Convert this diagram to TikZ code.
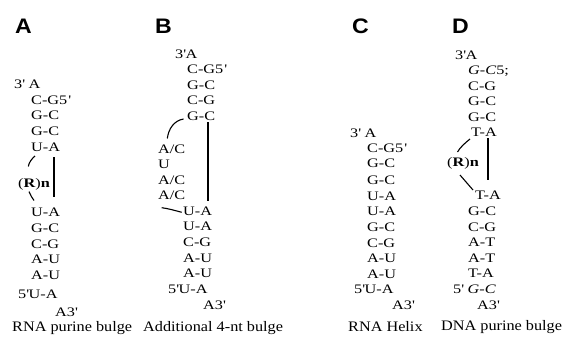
\documentclass[tikz,border=0pt]{standalone}
\usepackage{fontspec}
\setmainfont{Liberation Serif}
\newfontfamily\seqfont[FakeStretch=1.25]{Liberation Serif}
\newfontfamily\capfont[FakeStretch=1.12]{Liberation Serif}
\newfontfamily\labfont[FakeStretch=1.1]{Liberation Sans}
\newcommand\q{\textquotesingle}
\newcommand\qq{\kern1.2pt\textquotesingle}
\newcommand\Rn{(\textbf{R})\textbf{n}}

\tikzset{
  seq/.style={anchor=base west, inner sep=0pt, font=\seqfont\fontsize{13}{13}\selectfont},
  caption/.style={anchor=base west, inner sep=0pt, font=\capfont\fontsize{14.5}{15}\selectfont},
  panel/.style={anchor=base west, inner sep=0pt, font=\labfont\bfseries\fontsize{21}{21}\selectfont},
  stem/.style={line width=2pt},
  bulge/.style={line width=1.1pt},
}

\begin{document}
\begin{tikzpicture}[x=1pt,y=-1pt]
\useasboundingbox (0,0) rectangle (566,340);

% ---------- panel labels ----------
\node[panel] (labA) at (15,33)  {A};
\node[panel] (labB) at (155,33) {B};
\node[panel] (labC) at (352,33) {C};
\node[panel] (labD) at (452,33) {D};

% ---------- A: RNA purine bulge ----------
\node[seq] (a1)  at (14,88)    {3\q{} A};
\node[seq] (a2)  at (31,104)   {C-G5\qq};
\node[seq] (a3)  at (31,119.5) {G-C};
\node[seq] (a4)  at (31,135)   {G-C};
\node[seq] (a5)  at (31,151)   {U-A};
\node[seq] (aR)  at (18,187)   {\Rn};
\node[seq] (a6)  at (31,216.5) {U-A};
\node[seq] (a7)  at (31,232)   {G-C};
\node[seq] (a8)  at (31,248)   {C-G};
\node[seq] (a9)  at (31,263.5) {A-U};
\node[seq] (a10) at (31,279)   {A-U};
\node[seq] (a11) at (18,298)   {5\q U-A};
\node[seq] (a12) at (55,316)   {A3\q};
\node[caption] (capA) at (12,331) {RNA purine bulge};
\coordinate (aTop) at (53.5,157);
\coordinate (aBot) at (53.5,197);
\draw[stem] (aTop) -- (aBot);
\coordinate (aU1) at (35,156);
\coordinate (aU2) at (28.3,166.5);
\coordinate (aL1) at (29,191.5);
\coordinate (aL2) at (34,200.5);
\draw[bulge] (aU1) .. controls (31.5,159) and (29,162.5) .. (aU2);
\draw[bulge] (aL1) .. controls (30.5,195) and (32,198) .. (aL2);

% ---------- B: additional 4-nt bulge ----------
\node[seq] (b1)  at (175,59)   {3\q A};
\node[seq] (b2)  at (187,74)   {C-G5\qq};
\node[seq] (b3)  at (187,89)   {G-C};
\node[seq] (b4)  at (187,104.5){C-G};
\node[seq] (b5)  at (187,120)  {G-C};
\node[seq] (b6)  at (158,153)  {A/C};
\node[seq] (b7)  at (158,168)  {U};
\node[seq] (b8)  at (158,184)  {A/C};
\node[seq] (b9)  at (158,199)  {A/C};
\node[seq] (b10) at (183,215)  {U-A};
\node[seq] (b11) at (183,230.5){U-A};
\node[seq] (b12) at (183,246)  {C-G};
\node[seq] (b13) at (183,262)  {A-U};
\node[seq] (b14) at (183,277)  {A-U};
\node[seq] (b15) at (168,293)  {5\q U-A};
\node[seq] (b16) at (203,309)  {A3\q};
\node[caption] (capB) at (143,331) {Additional 4-nt bulge};
\coordinate (bTop) at (208,122);
\coordinate (bBot) at (208,201);
\draw[stem] (bTop) -- (bBot);
\coordinate (bU1) at (183.5,119);
\coordinate (bU2) at (167.3,138.5);
\coordinate (bL1) at (161.7,207.7);
\coordinate (bL2) at (181.7,212.3);
\draw[bulge] (bU1) .. controls (174,120.5) and (168.5,129) .. (bU2);
\draw[bulge] (bL1) .. controls (168,208.5) and (175,210.5) .. (bL2);

% ---------- C: RNA helix ----------
\node[seq] (c1)  at (350,137.5) {3\q{} A};
\node[seq] (c2)  at (367,152.5) {C-G5\qq};
\node[seq] (c3)  at (367,167.5) {G-C};
\node[seq] (c4)  at (367,184)   {G-C};
\node[seq] (c5)  at (367,200)   {U-A};
\node[seq] (c6)  at (367,215.5) {U-A};
\node[seq] (c7)  at (367,231.5) {G-C};
\node[seq] (c8)  at (367,247.5) {C-G};
\node[seq] (c9)  at (367,262.5) {A-U};
\node[seq] (c10) at (367,278.5) {A-U};
\node[seq] (c11) at (354,293.5) {5\q U-A};
\node[seq] (c12) at (392,309.5) {A3\q};
\node[caption] (capC) at (348,331) {RNA Helix};

% ---------- D: DNA purine bulge ----------
\node[seq] (d1)  at (455,59.5)  {3\q A};
\node[seq] (d2)  at (468,74.5)  {\textit{G-C}5;};
\node[seq] (d3)  at (468,90.5)  {C-G};
\node[seq] (d4)  at (468,105.5) {G-C};
\node[seq] (d5)  at (468,121.5) {G-C};
\node[seq] (d6)  at (471,136.5) {T-A};
\node[seq] (dR)  at (447,166)   {\Rn};
\node[seq] (d7)  at (475,199.5) {T-A};
\node[seq] (d8)  at (468,215.5) {G-C};
\node[seq] (d9)  at (468,231.5) {C-G};
\node[seq] (d10) at (468,246.5) {A-T};
\node[seq] (d11) at (468,262.5) {A-T};
\node[seq] (d12) at (468,277.5) {T-A};
\node[seq] (d13) at (453,293.5) {5\q{} \textit{G-C}};
\node[seq] (d14) at (477,309.5) {A3\q};
\node[caption] (capD) at (441,330) {DNA purine bulge};
\coordinate (dTop) at (487.5,138);
\coordinate (dBot) at (487.5,180);
\draw[stem] (dTop) -- (dBot);
\coordinate (dU1) at (470,139);
\coordinate (dU2) at (457.5,152);
\coordinate (dL1) at (460,175);
\coordinate (dL2) at (473,190);
\draw[bulge] (dU1) .. controls (465,143) and (460,147.5) .. (dU2);
\draw[bulge] (dL1) -- (dL2);
\end{tikzpicture}
\end{document}
